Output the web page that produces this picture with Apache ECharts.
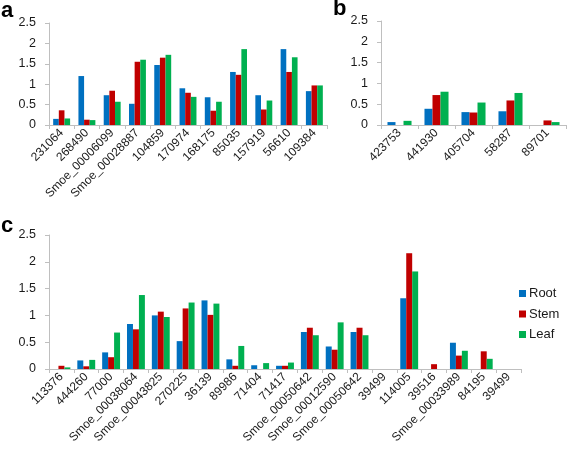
<!DOCTYPE html>
<html><head><meta charset="utf-8">
<script src="https://cdn.jsdelivr.net/npm/echarts@6/dist/echarts.min.js"></script>
<style>html,body{margin:0;padding:0;background:#fff}#c{width:567px;height:452px}</style>
</head><body><div id="c"></div>
<script>
const catsA = ['231064','268490','Smoe_00006099','Smoe_00028887','104859','170974','168175','85035','157919','56610','109384'];
const rootA = [0.15,1.20,0.73,0.52,1.47,0.90,0.68,1.30,0.73,1.86,0.83];
const stemA = [0.36,0.13,0.84,1.55,1.65,0.79,0.35,1.23,0.38,1.30,0.97];
const leafA = [0.16,0.12,0.57,1.60,1.72,0.69,0.57,1.86,0.60,1.66,0.97];

const catsB = ['423753','441930','405704','58287','89701'];
const rootB = [0.07,0.39,0.31,0.33,0];
const stemB = [0,0.72,0.30,0.59,0.11];
const leafB = [0.10,0.80,0.54,0.77,0.07];

const catsC = ['113376','444260','77000','Smoe_00038064','Smoe_00043825','270225','36139','89986','71404','71417','Smoe_00050642','Smoe_00012590','Smoe_00050642','39499','114005','39516','Smoe_00033989','84195','39499'];
const rootC = [0,0.16,0.31,0.84,1.00,0.52,1.28,0.18,0.07,0.06,0.69,0.42,0.69,0,1.32,0,0.49,0,0];
const stemC = [0.06,0.05,0.22,0.74,1.07,1.13,1.01,0.06,0,0.06,0.77,0.36,0.77,0,2.16,0.09,0.25,0.33,0];
const leafC = [0.03,0.17,0.68,1.38,0.97,1.24,1.22,0.43,0.11,0.12,0.63,0.87,0.63,0,1.82,0,0.34,0.19,0];

const yTicks = [0,0.5,1,1.5,2,2.5];
const seriesNames = ['Root','Stem','Leaf'];
const colors = ['#0070C0','#C00000','#00B050'];

const font = 'Liberation Sans, Arial, sans-serif';
const axisGray = '#BFBFBF';

function xAxis(idx, cats){
  return {type:'category', gridIndex:idx, data:cats,
    axisLine:{lineStyle:{color:axisGray,width:1}},
    axisTick:{show:true,length:4,lineStyle:{color:axisGray}},
    axisLabel:{rotate:45,interval:0,fontSize:12,fontFamily:font,color:'#1a1a1a',margin:6}};
}
function yAxis(idx){
  return {type:'value', gridIndex:idx, min:0, max:2.5, interval:0.5,
    axisLine:{show:true,lineStyle:{color:axisGray,width:1}},
    axisTick:{show:true,length:4,lineStyle:{color:axisGray}},
    splitLine:{show:false},
    axisLabel:{fontSize:12.5,fontFamily:font,color:'#1a1a1a',margin:13,
      formatter:v=>String(v)}};
}
function bars(idx, vals, gap){
  return vals.map((d,i)=>({
    name:seriesNames[i], type:'bar', xAxisIndex:idx, yAxisIndex:idx,
    data:d, itemStyle:{color:colors[i]}, barGap:'0%', barCategoryGap:gap,
    animation:false
  }));
}

const titleStyle = {fontSize:22,fontWeight:'bold',fontFamily:font,color:'#000'};
const chart = echarts.init(document.getElementById('c'));
chart.setOption({
  animation:false,
  color:colors,
  title:[
    {text:'a',left:1,top:0,padding:0,textStyle:titleStyle},
    {text:'b',left:333,top:-2,padding:0,textStyle:titleStyle},
    {text:'c',left:1,top:215,padding:0,textStyle:titleStyle}
  ],
  legend:{data:seriesNames,orient:'vertical',left:514,top:282,itemWidth:7,itemHeight:7,itemGap:7.5,
    icon:'rect',textStyle:{fontSize:13,lineHeight:13,fontFamily:font,color:'#1a1a1a',padding:[0,0,0,-2]},selectedMode:false},
  grid:[
    {left:49,top:23,width:278,height:102},
    {left:381,top:21,width:185,height:104},
    {left:49,top:235,width:472,height:134}
  ],
  xAxis:[xAxis(0,catsA),xAxis(1,catsB),xAxis(2,catsC)],
  yAxis:[yAxis(0),yAxis(1),yAxis(2)],
  series:[].concat(
    bars(0,[rootA,stemA,leafA],'33%'),
    bars(1,[rootB,stemB,leafB],'35%'),
    bars(2,[rootC,stemC,leafC],'28%')
  )
});
</script></body></html>
